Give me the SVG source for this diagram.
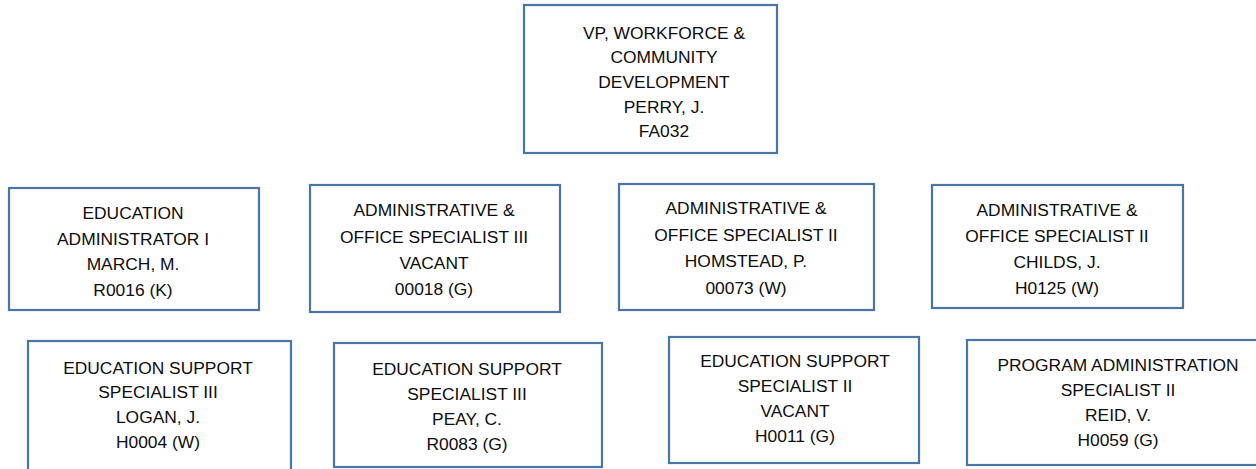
<svg xmlns="http://www.w3.org/2000/svg" width="1256" height="469" viewBox="0 0 1256 469">
<style>
.box{fill:#fff;stroke:#4A76A6;stroke-width:2.2}
.t{font-family:"Liberation Sans",Arial,sans-serif;font-size:17.4px;fill:#0d0d0d;text-anchor:middle}
</style>
<rect width="1256" height="469" fill="#fff"/>
<g id="connectors"></g>
<g id="n-vp"><rect class="box" x="524" y="5" width="253" height="148"/>
<text class="t" x="664" y="38.6">VP, WORKFORCE &amp;</text>
<text class="t" x="664" y="63.4">COMMUNITY</text>
<text class="t" x="664" y="88">DEVELOPMENT</text>
<text class="t" x="664" y="112.6">PERRY, J.</text>
<text class="t" x="664" y="137.1">FA032</text></g>
<g id="n-march"><rect class="box" x="9" y="188" width="250" height="122"/>
<text class="t" x="133" y="219">EDUCATION</text>
<text class="t" x="133" y="244.5">ADMINISTRATOR I</text>
<text class="t" x="133" y="270">MARCH, M.</text>
<text class="t" x="133" y="296">R0016 (K)</text></g>
<g id="n-aos3"><rect class="box" x="310" y="185" width="250" height="127"/>
<text class="t" x="434" y="216">ADMINISTRATIVE &amp;</text>
<text class="t" x="434" y="242.5">OFFICE SPECIALIST III</text>
<text class="t" x="434" y="268.5">VACANT</text>
<text class="t" x="434" y="295">00018 (G)</text></g>
<g id="n-homstead"><rect class="box" x="619" y="184" width="255" height="126"/>
<text class="t" x="746" y="214">ADMINISTRATIVE &amp;</text>
<text class="t" x="746" y="241">OFFICE SPECIALIST II</text>
<text class="t" x="746" y="267">HOMSTEAD, P.</text>
<text class="t" x="746" y="294">00073 (W)</text></g>
<g id="n-childs"><rect class="box" x="932" y="185" width="251" height="123"/>
<text class="t" x="1057" y="216">ADMINISTRATIVE &amp;</text>
<text class="t" x="1057" y="242">OFFICE SPECIALIST II</text>
<text class="t" x="1057" y="268">CHILDS, J.</text>
<text class="t" x="1057" y="294">H0125 (W)</text></g>
<g id="n-logan"><rect class="box" x="28" y="341" width="263" height="140"/>
<text class="t" x="158" y="373.5">EDUCATION SUPPORT</text>
<text class="t" x="158" y="398">SPECIALIST III</text>
<text class="t" x="158" y="423">LOGAN, J.</text>
<text class="t" x="158" y="448">H0004 (W)</text></g>
<g id="n-peay"><rect class="box" x="334" y="343" width="268" height="124"/>
<text class="t" x="467" y="375">EDUCATION SUPPORT</text>
<text class="t" x="467" y="399.5">SPECIALIST III</text>
<text class="t" x="467" y="424.5">PEAY, C.</text>
<text class="t" x="467" y="449.5">R0083 (G)</text></g>
<g id="n-ess2"><rect class="box" x="669" y="337" width="250" height="126"/>
<text class="t" x="795" y="367">EDUCATION SUPPORT</text>
<text class="t" x="795" y="392">SPECIALIST II</text>
<text class="t" x="795" y="416.5">VACANT</text>
<text class="t" x="795" y="441.5">H0011 (G)</text></g>
<g id="n-reid"><rect class="box" x="967" y="340" width="302" height="125"/>
<text class="t" x="1118" y="371">PROGRAM ADMINISTRATION</text>
<text class="t" x="1118" y="396">SPECIALIST II</text>
<text class="t" x="1118" y="420.5">REID, V.</text>
<text class="t" x="1118" y="445.5">H0059 (G)</text></g>
</svg>
